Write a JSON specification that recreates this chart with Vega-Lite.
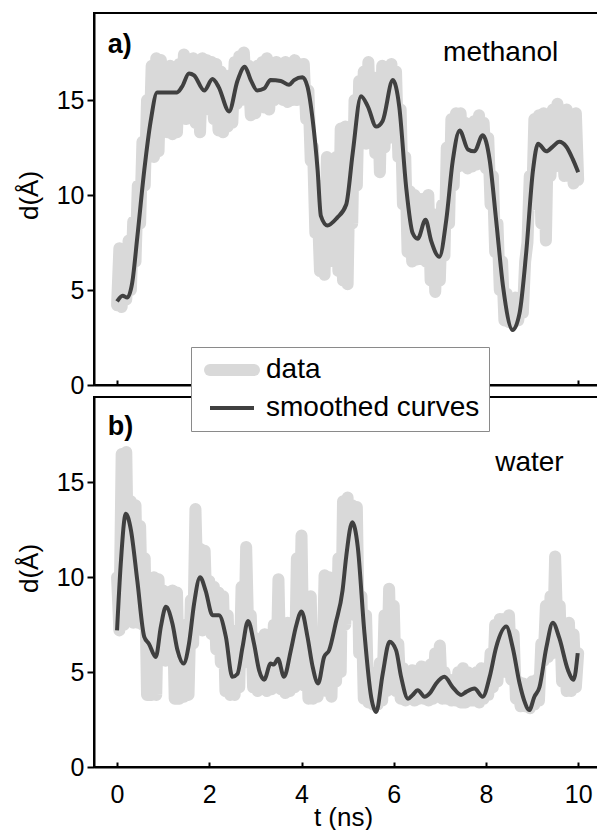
{
  "$schema": "https://vega.github.io/schema/vega-lite/v6.json",
  "padding": {"left": 15, "top": 12, "right": 0, "bottom": 0},
  "background": "white",
  "spacing": 12,
  "bounds": "flush",
  "config": {
    "view": {"stroke": "black", "strokeWidth": 2},
    "axis": {"domainColor": "black", "domainWidth": 2, "tickColor": "black", "tickWidth": 2, "labelFont": "Liberation Sans", "labelFontSize": 25, "labelColor": "black", "titleFont": "Liberation Sans", "titleFontSize": 26, "titleFontWeight": "normal", "titleColor": "black", "grid": false},
    "legend": {"labelFont": "Liberation Sans", "labelFontSize": 28, "labelColor": "black", "labelLimit": 500}
  },
  "datasets": {
    "a_raw": [
      {"t":0.0,"d":4.2},{"t":0.05,"d":7.2},{"t":0.1,"d":4.1},{"t":0.15,"d":7.0},{"t":0.2,"d":4.5},{"t":0.25,"d":7.6},{"t":0.3,"d":5.0},{"t":0.35,"d":8.6},{"t":0.4,"d":6.5},{"t":0.45,"d":10.5},
      {"t":0.5,"d":8.5},{"t":0.55,"d":12.8},{"t":0.6,"d":10.5},{"t":0.65,"d":15.0},{"t":0.7,"d":12.5},{"t":0.75,"d":16.8},{"t":0.8,"d":12.0},{"t":0.85,"d":17.2},{"t":0.9,"d":12.3},{"t":0.95,"d":17.1},
      {"t":1.0,"d":14.5},{"t":1.05,"d":16.6},{"t":1.1,"d":13.3},{"t":1.15,"d":16.8},{"t":1.2,"d":13.2},{"t":1.25,"d":16.5},{"t":1.3,"d":13.3},{"t":1.35,"d":16.9},{"t":1.4,"d":14.5},{"t":1.45,"d":17.4},
      {"t":1.5,"d":14.0},{"t":1.55,"d":17.0},{"t":1.6,"d":14.4},{"t":1.65,"d":17.2},{"t":1.7,"d":13.8},{"t":1.75,"d":17.0},{"t":1.8,"d":13.3},{"t":1.85,"d":17.2},{"t":1.9,"d":14.8},{"t":1.95,"d":17.1},
      {"t":2.0,"d":14.5},{"t":2.05,"d":17.0},{"t":2.1,"d":14.0},{"t":2.15,"d":16.9},{"t":2.2,"d":13.4},{"t":2.25,"d":16.5},{"t":2.3,"d":13.3},{"t":2.35,"d":16.0},{"t":2.4,"d":13.6},{"t":2.45,"d":16.3},
      {"t":2.5,"d":13.8},{"t":2.55,"d":17.0},{"t":2.6,"d":14.8},{"t":2.65,"d":17.3},{"t":2.7,"d":15.0},{"t":2.75,"d":17.5},{"t":2.8,"d":15.3},{"t":2.85,"d":16.8},{"t":2.9,"d":14.2},{"t":2.95,"d":16.5},
      {"t":3.0,"d":14.3},{"t":3.05,"d":16.8},{"t":3.1,"d":14.8},{"t":3.15,"d":17.0},{"t":3.2,"d":14.6},{"t":3.25,"d":17.2},{"t":3.3,"d":14.5},{"t":3.35,"d":16.8},{"t":3.4,"d":15.0},{"t":3.45,"d":17.0},
      {"t":3.5,"d":15.2},{"t":3.55,"d":16.8},{"t":3.6,"d":15.0},{"t":3.65,"d":17.0},{"t":3.7,"d":14.9},{"t":3.75,"d":16.6},{"t":3.8,"d":15.0},{"t":3.85,"d":17.1},{"t":3.9,"d":15.0},{"t":3.95,"d":16.9},
      {"t":4.0,"d":15.1},{"t":4.05,"d":16.9},{"t":4.1,"d":14.0},{"t":4.15,"d":15.5},{"t":4.2,"d":11.8},{"t":4.25,"d":12.5},{"t":4.3,"d":8.0},{"t":4.35,"d":9.5},{"t":4.4,"d":6.0},{"t":4.45,"d":10.5},
      {"t":4.5,"d":5.8},{"t":4.55,"d":12.0},{"t":4.6,"d":6.5},{"t":4.65,"d":11.8},{"t":4.7,"d":7.2},{"t":4.75,"d":12.0},{"t":4.8,"d":6.0},{"t":4.85,"d":13.5},{"t":4.9,"d":5.5},{"t":4.95,"d":13.6},
      {"t":5.0,"d":5.3},{"t":5.05,"d":12.5},{"t":5.1,"d":8.5},{"t":5.15,"d":15.0},{"t":5.2,"d":10.5},{"t":5.25,"d":16.0},{"t":5.3,"d":12.8},{"t":5.35,"d":16.5},{"t":5.4,"d":12.7},{"t":5.45,"d":17.0},
      {"t":5.5,"d":13.0},{"t":5.55,"d":16.2},{"t":5.6,"d":12.2},{"t":5.65,"d":15.5},{"t":5.7,"d":11.2},{"t":5.75,"d":16.8},{"t":5.8,"d":12.5},{"t":5.85,"d":16.7},{"t":5.9,"d":13.0},{"t":5.95,"d":16.9},
      {"t":6.0,"d":13.5},{"t":6.05,"d":16.5},{"t":6.1,"d":12.0},{"t":6.15,"d":14.5},{"t":6.2,"d":9.5},{"t":6.25,"d":12.0},{"t":6.3,"d":7.0},{"t":6.35,"d":10.2},{"t":6.4,"d":6.5},{"t":6.45,"d":10.0},
      {"t":6.5,"d":6.6},{"t":6.55,"d":9.8},{"t":6.6,"d":6.8},{"t":6.65,"d":9.8},{"t":6.7,"d":6.5},{"t":6.75,"d":10.0},{"t":6.8,"d":5.5},{"t":6.85,"d":9.0},{"t":6.9,"d":4.9},{"t":6.95,"d":8.5},
      {"t":7.0,"d":5.5},{"t":7.05,"d":9.5},{"t":7.1,"d":6.8},{"t":7.15,"d":12.5},{"t":7.2,"d":8.5},{"t":7.25,"d":14.0},{"t":7.3,"d":10.5},{"t":7.35,"d":14.3},{"t":7.4,"d":11.5},{"t":7.45,"d":14.3},
      {"t":7.5,"d":11.6},{"t":7.55,"d":13.8},{"t":7.6,"d":11.4},{"t":7.65,"d":13.6},{"t":7.7,"d":11.5},{"t":7.75,"d":13.9},{"t":7.8,"d":11.6},{"t":7.85,"d":14.2},{"t":7.9,"d":11.8},{"t":7.95,"d":13.8},
      {"t":8.0,"d":11.4},{"t":8.05,"d":13.0},{"t":8.1,"d":9.5},{"t":8.15,"d":11.0},{"t":8.2,"d":7.0},{"t":8.25,"d":8.5},{"t":8.3,"d":5.0},{"t":8.35,"d":6.5},{"t":8.4,"d":3.4},{"t":8.45,"d":4.8},
      {"t":8.5,"d":3.3},{"t":8.55,"d":4.5},{"t":8.6,"d":3.3},{"t":8.65,"d":4.6},{"t":8.7,"d":3.4},{"t":8.75,"d":4.2},{"t":8.8,"d":3.8},{"t":8.85,"d":6.5},{"t":8.9,"d":7.5},{"t":8.95,"d":11.0},
      {"t":9.0,"d":9.5},{"t":9.05,"d":14.0},{"t":9.1,"d":10.0},{"t":9.15,"d":14.2},{"t":9.2,"d":8.5},{"t":9.25,"d":14.3},{"t":9.3,"d":7.6},{"t":9.35,"d":14.0},{"t":9.4,"d":11.0},{"t":9.45,"d":14.5},
      {"t":9.5,"d":11.5},{"t":9.55,"d":14.8},{"t":9.6,"d":11.8},{"t":9.65,"d":14.3},{"t":9.7,"d":11.0},{"t":9.75,"d":14.5},{"t":9.8,"d":11.0},{"t":9.85,"d":14.2},{"t":9.9,"d":10.6},{"t":9.95,"d":14.3},
      {"t":10.0,"d":10.8}
    ],
    "a_smooth": [
      {"t":0.0,"d":4.4},{"t":0.12,"d":4.7},{"t":0.22,"d":4.6},{"t":0.33,"d":5.4},{"t":0.44,"d":7.8},{"t":0.59,"d":11.3},{"t":0.73,"d":13.9},{"t":0.87,"d":15.4},{"t":1.3,"d":15.4},{"t":1.41,"d":15.7},
      {"t":1.56,"d":16.4},{"t":1.67,"d":16.3},{"t":1.89,"d":15.5},{"t":2.07,"d":16.1},{"t":2.2,"d":15.7},{"t":2.43,"d":14.4},{"t":2.61,"d":16.0},{"t":2.77,"d":16.75},{"t":2.9,"d":16.05},{"t":3.04,"d":15.5},
      {"t":3.19,"d":15.6},{"t":3.33,"d":16.05},{"t":3.55,"d":16.0},{"t":3.73,"d":15.8},{"t":3.84,"d":16.05},{"t":4.02,"d":16.2},{"t":4.13,"d":15.7},{"t":4.24,"d":14.0},{"t":4.35,"d":11.3},{"t":4.42,"d":8.9},
      {"t":4.56,"d":8.4},{"t":4.77,"d":8.8},{"t":4.97,"d":9.5},{"t":5.11,"d":12.2},{"t":5.29,"d":15.2},{"t":5.44,"d":14.65},{"t":5.62,"d":13.6},{"t":5.76,"d":13.9},{"t":5.98,"d":16.05},{"t":6.12,"d":14.65},
      {"t":6.27,"d":10.4},{"t":6.41,"d":8.0},{"t":6.52,"d":7.7},{"t":6.69,"d":8.7},{"t":6.81,"d":7.6},{"t":6.99,"d":6.75},{"t":7.14,"d":8.7},{"t":7.28,"d":11.8},{"t":7.43,"d":13.4},{"t":7.61,"d":12.4},
      {"t":7.75,"d":12.3},{"t":7.93,"d":13.15},{"t":8.08,"d":11.85},{"t":8.22,"d":8.7},{"t":8.37,"d":5.2},{"t":8.58,"d":2.9},{"t":8.73,"d":3.8},{"t":8.87,"d":6.9},{"t":9.02,"d":11.3},{"t":9.13,"d":12.7},
      {"t":9.31,"d":12.3},{"t":9.45,"d":12.55},{"t":9.59,"d":12.8},{"t":9.74,"d":12.55},{"t":9.88,"d":11.9},{"t":10.0,"d":11.2}
    ],
    "b_raw": [
      {"t":0.0,"d":10.0},{"t":0.05,"d":7.2},{"t":0.1,"d":16.5},{"t":0.15,"d":7.5},{"t":0.2,"d":16.6},{"t":0.25,"d":8.5},{"t":0.3,"d":14.0},{"t":0.35,"d":7.6},{"t":0.4,"d":13.8},{"t":0.45,"d":7.6},
      {"t":0.5,"d":12.7},{"t":0.55,"d":7.5},{"t":0.6,"d":11.0},{"t":0.65,"d":3.8},{"t":0.7,"d":9.8},{"t":0.75,"d":3.8},{"t":0.8,"d":10.0},{"t":0.85,"d":3.8},{"t":0.9,"d":9.9},{"t":0.95,"d":6.0},
      {"t":1.0,"d":9.3},{"t":1.05,"d":5.6},{"t":1.1,"d":9.2},{"t":1.15,"d":6.5},{"t":1.2,"d":9.3},{"t":1.25,"d":3.6},{"t":1.3,"d":9.2},{"t":1.35,"d":3.6},{"t":1.4,"d":7.5},{"t":1.45,"d":3.7},
      {"t":1.5,"d":7.0},{"t":1.55,"d":3.8},{"t":1.6,"d":8.8},{"t":1.65,"d":6.5},{"t":1.7,"d":13.6},{"t":1.75,"d":8.8},{"t":1.8,"d":11.5},{"t":1.85,"d":7.2},{"t":1.9,"d":11.4},{"t":1.95,"d":7.4},
      {"t":2.0,"d":9.8},{"t":2.05,"d":7.0},{"t":2.1,"d":9.5},{"t":2.15,"d":6.2},{"t":2.2,"d":9.2},{"t":2.25,"d":5.5},{"t":2.3,"d":9.0},{"t":2.35,"d":4.0},{"t":2.4,"d":8.0},{"t":2.45,"d":3.8},
      {"t":2.5,"d":7.2},{"t":2.55,"d":3.8},{"t":2.6,"d":6.5},{"t":2.65,"d":4.2},{"t":2.7,"d":9.5},{"t":2.75,"d":5.5},{"t":2.8,"d":11.6},{"t":2.85,"d":6.5},{"t":2.9,"d":8.0},{"t":2.95,"d":4.2},
      {"t":3.0,"d":6.8},{"t":3.05,"d":4.0},{"t":3.1,"d":6.5},{"t":3.15,"d":4.2},{"t":3.2,"d":7.0},{"t":3.25,"d":4.0},{"t":3.3,"d":6.8},{"t":3.35,"d":4.1},{"t":3.4,"d":7.5},{"t":3.45,"d":4.2},
      {"t":3.5,"d":9.9},{"t":3.55,"d":4.1},{"t":3.6,"d":7.5},{"t":3.65,"d":3.9},{"t":3.7,"d":7.6},{"t":3.75,"d":4.0},{"t":3.8,"d":7.5},{"t":3.85,"d":4.2},{"t":3.9,"d":11.0},{"t":3.95,"d":5.5},
      {"t":4.0,"d":12.2},{"t":4.05,"d":4.3},{"t":4.1,"d":8.0},{"t":4.15,"d":3.6},{"t":4.2,"d":9.0},{"t":4.25,"d":3.6},{"t":4.3,"d":7.0},{"t":4.35,"d":3.7},{"t":4.4,"d":6.5},{"t":4.45,"d":4.5},
      {"t":4.5,"d":10.1},{"t":4.55,"d":4.0},{"t":4.6,"d":10.0},{"t":4.65,"d":3.7},{"t":4.7,"d":9.0},{"t":4.75,"d":4.5},{"t":4.8,"d":11.0},{"t":4.85,"d":5.0},{"t":4.9,"d":14.0},{"t":4.95,"d":7.5},
      {"t":5.0,"d":14.2},{"t":5.05,"d":9.5},{"t":5.1,"d":13.8},{"t":5.15,"d":8.0},{"t":5.2,"d":13.7},{"t":5.25,"d":6.0},{"t":5.3,"d":9.0},{"t":5.35,"d":3.6},{"t":5.4,"d":8.0},{"t":5.45,"d":3.4},
      {"t":5.5,"d":5.0},{"t":5.55,"d":3.3},{"t":5.6,"d":4.8},{"t":5.65,"d":3.3},{"t":5.7,"d":5.5},{"t":5.75,"d":3.5},{"t":5.8,"d":8.0},{"t":5.85,"d":4.0},{"t":5.9,"d":9.4},{"t":5.95,"d":4.5},
      {"t":6.0,"d":8.5},{"t":6.05,"d":4.0},{"t":6.1,"d":6.5},{"t":6.15,"d":3.6},{"t":6.2,"d":5.2},{"t":6.25,"d":3.5},{"t":6.3,"d":5.0},{"t":6.35,"d":3.6},{"t":6.4,"d":5.1},{"t":6.45,"d":3.5},
      {"t":6.5,"d":5.0},{"t":6.55,"d":3.6},{"t":6.6,"d":5.3},{"t":6.65,"d":3.6},{"t":6.7,"d":5.2},{"t":6.75,"d":3.5},{"t":6.8,"d":5.4},{"t":6.85,"d":3.6},{"t":6.9,"d":6.0},{"t":6.95,"d":3.7},
      {"t":7.0,"d":6.4},{"t":7.05,"d":3.6},{"t":7.1,"d":5.0},{"t":7.15,"d":3.6},{"t":7.2,"d":4.5},{"t":7.25,"d":3.5},{"t":7.3,"d":4.6},{"t":7.35,"d":3.5},{"t":7.4,"d":5.0},{"t":7.45,"d":3.4},
      {"t":7.5,"d":5.2},{"t":7.55,"d":3.4},{"t":7.6,"d":5.0},{"t":7.65,"d":3.5},{"t":7.7,"d":4.8},{"t":7.75,"d":3.5},{"t":7.8,"d":5.0},{"t":7.85,"d":3.4},{"t":7.9,"d":5.2},{"t":7.95,"d":3.6},
      {"t":8.0,"d":4.8},{"t":8.05,"d":3.8},{"t":8.1,"d":6.0},{"t":8.15,"d":4.2},{"t":8.2,"d":7.5},{"t":8.25,"d":4.5},{"t":8.3,"d":7.8},{"t":8.35,"d":5.0},{"t":8.4,"d":7.8},{"t":8.45,"d":5.0},
      {"t":8.5,"d":8.0},{"t":8.55,"d":4.6},{"t":8.6,"d":7.0},{"t":8.65,"d":3.6},{"t":8.7,"d":4.5},{"t":8.75,"d":3.2},{"t":8.8,"d":4.4},{"t":8.85,"d":3.2},{"t":8.9,"d":4.3},{"t":8.95,"d":3.1},
      {"t":9.0,"d":4.5},{"t":9.05,"d":3.3},{"t":9.1,"d":4.6},{"t":9.15,"d":3.5},{"t":9.2,"d":6.5},{"t":9.25,"d":5.6},{"t":9.3,"d":8.5},{"t":9.35,"d":5.8},{"t":9.4,"d":9.0},{"t":9.45,"d":6.0},
      {"t":9.5,"d":11.1},{"t":9.55,"d":7.0},{"t":9.6,"d":8.5},{"t":9.65,"d":4.5},{"t":9.7,"d":7.0},{"t":9.75,"d":4.0},{"t":9.8,"d":7.6},{"t":9.85,"d":4.0},{"t":9.9,"d":7.0},{"t":9.95,"d":4.2},
      {"t":10.0,"d":6.0}
    ],
    "b_smooth": [
      {"t":0.0,"d":7.2},{"t":0.08,"d":10.7},{"t":0.19,"d":13.35},{"t":0.3,"d":12.5},{"t":0.44,"d":9.8},{"t":0.59,"d":6.86},{"t":0.69,"d":6.5},{"t":0.84,"d":5.8},{"t":0.95,"d":7.4},{"t":1.06,"d":8.44},
      {"t":1.2,"d":7.56},{"t":1.31,"d":6.16},{"t":1.44,"d":5.45},{"t":1.56,"d":6.5},{"t":1.67,"d":8.6},{"t":1.8,"d":10.0},{"t":1.92,"d":9.3},{"t":2.07,"d":8.0},{"t":2.21,"d":8.0},{"t":2.36,"d":6.86},
      {"t":2.5,"d":4.75},{"t":2.61,"d":4.9},{"t":2.72,"d":6.3},{"t":2.84,"d":7.7},{"t":2.97,"d":6.5},{"t":3.08,"d":5.1},{"t":3.19,"d":4.6},{"t":3.33,"d":5.45},{"t":3.4,"d":5.4},{"t":3.49,"d":5.7},
      {"t":3.62,"d":4.75},{"t":3.77,"d":6.16},{"t":3.88,"d":7.4},{"t":4.0,"d":8.2},{"t":4.13,"d":6.86},{"t":4.24,"d":5.3},{"t":4.36,"d":4.4},{"t":4.49,"d":5.8},{"t":4.6,"d":6.16},{"t":4.74,"d":7.56},
      {"t":4.89,"d":9.3},{"t":4.97,"d":11.1},{"t":5.1,"d":12.9},{"t":5.22,"d":11.6},{"t":5.36,"d":7.2},{"t":5.51,"d":3.7},{"t":5.62,"d":2.9},{"t":5.76,"d":4.9},{"t":5.91,"d":6.6},{"t":6.05,"d":6.16},
      {"t":6.16,"d":4.75},{"t":6.31,"d":3.6},{"t":6.41,"d":3.8},{"t":6.52,"d":4.05},{"t":6.67,"d":3.7},{"t":6.78,"d":3.88},{"t":6.92,"d":4.4},{"t":7.1,"d":4.75},{"t":7.28,"d":4.2},{"t":7.46,"d":3.8},
      {"t":7.57,"d":3.96},{"t":7.75,"d":4.14},{"t":7.93,"d":3.7},{"t":8.08,"d":4.75},{"t":8.22,"d":6.3},{"t":8.44,"d":7.4},{"t":8.58,"d":6.3},{"t":8.73,"d":4.4},{"t":8.83,"d":3.5},{"t":8.94,"d":3.0},
      {"t":9.05,"d":3.7},{"t":9.16,"d":4.2},{"t":9.31,"d":6.3},{"t":9.45,"d":7.6},{"t":9.59,"d":6.8},{"t":9.78,"d":5.1},{"t":9.9,"d":4.6},{"t":9.99,"d":6.0}
    ]
  },
  "vconcat": [
    {
      "width": 510,
      "height": 372,
      "layer": [
        {
          "data": {"name": "a_raw"},
          "mark": {"type": "line", "strokeWidth": 12, "strokeJoin": "round", "strokeCap": "round"},
          "encoding": {
            "x": {"field": "t", "type": "quantitative", "scale": {"domain": [-0.5, 10.56], "nice": false, "zero": false},
                  "axis": {"values": [0, 2, 4, 6, 8, 10], "labels": false, "title": null, "tickSize": -5}},
            "y": {"field": "d", "type": "quantitative", "scale": {"domain": [0, 19.58], "nice": false},
                  "axis": {"values": [0, 5, 10, 15], "tickSize": 7, "labelPadding": 3, "title": "d(Å)", "titleX": -65, "titleY": 182, "titleBaseline": "middle"}},
            "color": {"datum": "data", "type": "nominal",
                      "scale": {"domain": ["data", "smoothed curves"], "range": ["#d9d9d9", "#404040"]},
                      "legend": {"orient": "none", "legendX": 97, "legendY": 334, "title": null, "symbolType": "M-2.2,0H2.2", "symbolSize": 400,
                                 "symbolOffset": 18, "strokeColor": "#8a8a8a", "fillColor": "white", "padding": 9, "rowPadding": 0, "labelOffset": 20, "labelFontSize": 28,
                                 "encode": {"symbols": {"update": {"strokeWidth": {"signal": "datum.value === 'data' ? 12 : 4"}, "strokeCap": {"signal": "datum.value === 'data' ? 'round' : 'butt'"}, "stroke": {"signal": "datum.value === 'data' ? '#d9d9d9' : '#6a6a6a'"}}}}}}
          }
        },
        {
          "data": {"name": "a_smooth"},
          "mark": {"type": "line", "strokeWidth": 4, "strokeJoin": "round", "interpolate": "monotone"},
          "encoding": {
            "x": {"field": "t", "type": "quantitative"},
            "y": {"field": "d", "type": "quantitative"},
            "color": {"datum": "smoothed curves", "type": "nominal"}
          }
        },
        {
          "data": {"values": [{"label": "a)", "t": -0.2, "d": 17.9}]},
          "mark": {"type": "text", "align": "left", "baseline": "middle", "font": "Liberation Sans", "fontSize": 27, "fontWeight": "bold", "color": "black"},
          "encoding": {"x": {"field": "t", "type": "quantitative"}, "y": {"field": "d", "type": "quantitative"}, "text": {"field": "label"}}
        },
        {
          "data": {"values": [{"label": "methanol", "t": 7.07, "d": 17.5}]},
          "mark": {"type": "text", "align": "left", "baseline": "middle", "font": "Liberation Sans", "fontSize": 28, "color": "black"},
          "encoding": {"x": {"field": "t", "type": "quantitative"}, "y": {"field": "d", "type": "quantitative"}, "text": {"field": "label"}}
        }
      ]
    },
    {
      "width": 510,
      "height": 370,
      "layer": [
        {
          "data": {"name": "b_raw"},
          "mark": {"type": "line", "strokeWidth": 12, "strokeJoin": "round", "strokeCap": "round"},
          "encoding": {
            "x": {"field": "t", "type": "quantitative", "scale": {"domain": [-0.5, 10.56], "nice": false, "zero": false},
                  "axis": {"values": [0, 2, 4, 6, 8, 10], "title": "t (ns)", "tickSize": -5, "labelPadding": 20, "titleX": 249, "titlePadding": -3}},
            "y": {"field": "d", "type": "quantitative", "scale": {"domain": [0, 19.5], "nice": false},
                  "axis": {"values": [0, 5, 10, 15], "tickSize": 7, "labelPadding": 3, "title": "d(Å)", "titleX": -65, "titleY": 171, "titleBaseline": "middle"}},
            "color": {"datum": "data", "type": "nominal"}
          }
        },
        {
          "data": {"name": "b_smooth"},
          "mark": {"type": "line", "strokeWidth": 4, "strokeJoin": "round", "interpolate": "monotone"},
          "encoding": {
            "x": {"field": "t", "type": "quantitative"},
            "y": {"field": "d", "type": "quantitative"},
            "color": {"datum": "smoothed curves", "type": "nominal"}
          }
        },
        {
          "data": {"values": [{"label": "b)", "t": -0.2, "d": 17.9}]},
          "mark": {"type": "text", "align": "left", "baseline": "middle", "font": "Liberation Sans", "fontSize": 27, "fontWeight": "bold", "color": "black"},
          "encoding": {"x": {"field": "t", "type": "quantitative"}, "y": {"field": "d", "type": "quantitative"}, "text": {"field": "label"}}
        },
        {
          "data": {"values": [{"label": "water", "t": 8.2, "d": 16.0}]},
          "mark": {"type": "text", "align": "left", "baseline": "middle", "font": "Liberation Sans", "fontSize": 28, "color": "black"},
          "encoding": {"x": {"field": "t", "type": "quantitative"}, "y": {"field": "d", "type": "quantitative"}, "text": {"field": "label"}}
        }
      ]
    }
  ]
}
